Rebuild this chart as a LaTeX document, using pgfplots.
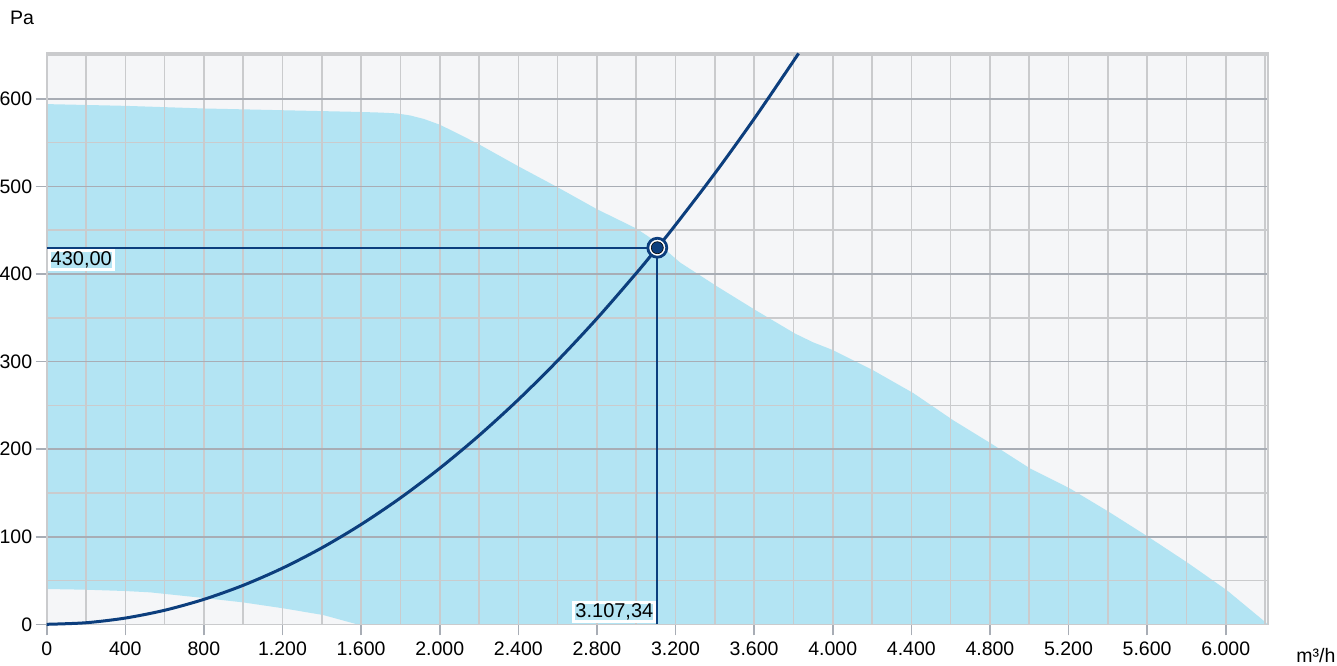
\documentclass[border=0pt]{standalone}
\usepackage{pgfplots}
\pgfplotsset{compat=1.18}
\usepackage{fontspec}
\setmainfont{Liberation Sans}
\definecolor{bgc}{RGB}{245,246,248}
\definecolor{skyfill}{RGB}{179,228,243}
\definecolor{curve}{RGB}{12,62,125}
\definecolor{gmaj}{RGB}{168,173,181}
\definecolor{gmin}{RGB}{202,203,205}
\definecolor{hl}{RGB}{179,228,243}
\begin{document}
\begin{tikzpicture}
\begin{axis}[
  set layers,
  at={(0,0)}, anchor=south west,
  scale only axis, width=1221.3pt, height=571pt,
  xmin=0, xmax=6215, ymin=0, ymax=652,
  clip=false,
  xtick={0,400,...,6000},
  minor xtick={200,600,...,6200},
  ytick={0,100,...,600},
  minor ytick={50,150,...,650},
  grid=both,
  major grid style={draw=gmin, line width=1.6pt},
  minor grid style={draw=gmin, line width=1.6pt},
  tick align=outside,
  major tick length=11pt,
  minor tick length=0pt,
  xtick pos=bottom, ytick pos=left,
  every tick/.style={draw=gmaj, line width=1.6pt},
  x axis line style={draw=gmaj, line width=1.8pt},
  y axis line style={draw=gmin, line width=1.6pt},
  tick label style={font=\fontsize{19.5}{23}\selectfont, text=black},
  /pgf/number format/assume math mode=true,
  /pgf/number format/1000 sep={.},
  /pgf/number format/use comma,
  xticklabel style={yshift=-3pt},
]
% background
\addplot[fill=bgc, draw=none, on layer=axis background] coordinates {(0,0)(6215,0)(6215,652)(0,652)};
% fan area
\addplot[fill=skyfill, draw=none, on layer=axis background] coordinates {
(0,594)(400,592)(800,589)(1200,587)(1600,585)(1700,584.3)(1780,583.4)(1850,581)(1920,577)(2000,570.5)(2100,559.5)(2200,548)(2400,523)(2600,499)(2800,474)(3000,452)(3100,437)(3224,413)(3410,386)(3605,359)(3808,332)(3900,322)(4002,313)(4206,290)(4410,264)(4613,233)(4816,205)(5004,178)(5208,155)(5401,129)(5605,100)(5808,70)(6005,39)(6215,0)
(1580,0)(1407,10.6)(1203,18.3)(1000,25)(814,29.7)(526,36.5)(400,38)(200,39.5)(0,40.3)
};
% major horizontal grid darker
\addplot[draw=gmaj, line width=1.8pt, on layer=axis grid] coordinates {(0,100)(6215,100)};
\addplot[draw=gmaj, line width=1.8pt, on layer=axis grid] coordinates {(0,200)(6215,200)};
\addplot[draw=gmaj, line width=1.8pt, on layer=axis grid] coordinates {(0,300)(6215,300)};
\addplot[draw=gmaj, line width=1.8pt, on layer=axis grid] coordinates {(0,400)(6215,400)};
\addplot[draw=gmaj, line width=1.8pt, on layer=axis grid] coordinates {(0,500)(6215,500)};
\addplot[draw=gmaj, line width=1.8pt, on layer=axis grid] coordinates {(0,600)(6215,600)};
% system curve
\addplot[draw=curve, line width=3pt, smooth] coordinates {
(0,0)(200,1.78)(400,7.13)(600,16.03)(800,28.50)(1000,44.53)(1200,64.13)(1400,87.29)(1600,114.01)(1800,144.29)(2000,178.14)(2200,215.54)(2400,256.52)(2600,301.05)(2800,349.15)(3000,400.81)(3107.34,430)(3200,456.04)(3400,514.81)(3600,577.16)(3800,643.07)(3826,651.9)
};
% drop lines
\addplot[draw=curve, line width=1.7pt] coordinates {(0,430)(3107.34,430)(3107.34,0)};
% operating point
\addplot[only marks, mark=*, mark size=9.5pt, mark options={draw=curve, fill=white, line width=2.8pt}] coordinates {(3107.34,430)};
\addplot[only marks, mark=*, mark size=6pt, mark options={draw=black, fill=curve, line width=0.6pt}] coordinates {(3107.34,430)};
% value labels
\node[anchor=north west, fill=hl, draw=white, line width=3pt, inner sep=1.5pt, font=\fontsize{20}{24}\selectfont, xshift=1pt, yshift=-1pt] at (axis cs:0,430) {430,00};
\node[anchor=south east, fill=hl, draw=white, line width=3pt, inner sep=1.5pt, font=\fontsize{20}{24}\selectfont, xshift=-1pt, yshift=1pt] at (axis cs:3107.34,0) {3.107,34};
% axis titles
\node[font=\fontsize{19.5}{23}\selectfont] at (rel axis cs:0,1) [xshift=-24.7pt, yshift=35.3pt] {Pa};
\node[font=\fontsize{19.5}{23}\selectfont] at (rel axis cs:1,0) [xshift=48pt, yshift=-31.5pt] {m³/h};
\end{axis}
\pgfresetboundingbox
\path (-46.7pt,-40.7pt) rectangle (1290.3pt,624.3pt);
\end{tikzpicture}
\end{document}
